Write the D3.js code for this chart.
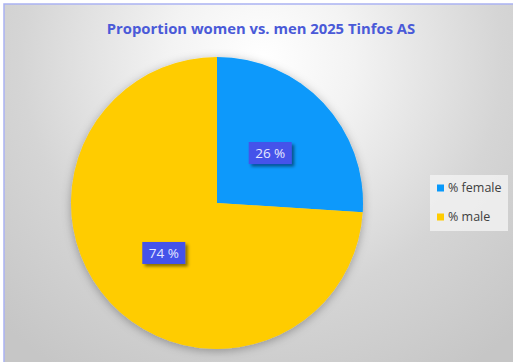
<!DOCTYPE html>
<html><head><meta charset="utf-8">
<script src="https://cdn.jsdelivr.net/npm/d3@7"></script>
<style>html,body{margin:0;padding:0;background:#fff;}svg{display:block;}</style>
</head><body>
<svg id="c" width="513" height="362"></svg>
<script>
const title = "Proportion women vs. men 2025 Tinfos AS";
const categories = ["% female", "% male"];
const values = [26, 74];
const colors = ["#0899fb", "#ffcc00"];

const svg = d3.select("#c");
const W = 513, H = 362;
const defs = svg.append("defs");
const rg = defs.append("radialGradient").attr("id","bg")
  .attr("gradientUnits","userSpaceOnUse").attr("cx",262).attr("cy",60).attr("r",370)
  .attr("fx",262).attr("fy",60);
rg.append("stop").attr("offset","0%").attr("stop-color","#ffffff");
rg.append("stop").attr("offset","25%").attr("stop-color","#f3f3f3");
rg.append("stop").attr("offset","65%").attr("stop-color","#d5d5d5");
rg.append("stop").attr("offset","100%").attr("stop-color","#c6c6c6");

const sh = defs.append("filter").attr("id","pieShadow").attr("x","-20%").attr("y","-20%").attr("width","140%").attr("height","140%");
sh.append("feDropShadow").attr("dx",0).attr("dy",2).attr("stdDeviation",5).attr("flood-color","#000").attr("flood-opacity",0.3);
const ls = defs.append("filter").attr("id","lblShadow").attr("x","-30%").attr("y","-30%").attr("width","170%").attr("height","170%");
ls.append("feDropShadow").attr("dx",2.5).attr("dy",2.5).attr("stdDeviation",1.5).attr("flood-color","#000").attr("flood-opacity",0.45);

svg.append("rect").attr("x",0).attr("y",0).attr("width",W).attr("height",H).attr("fill","#fff");
svg.append("rect").attr("x",4).attr("y",4).attr("width",W+10).attr("height",H+10)
  .attr("fill","url(#bg)").attr("stroke","#aab2f2").attr("stroke-width",1.5);

svg.append("text").attr("x",261).attr("y",34).attr("text-anchor","middle")
  .attr("font-family","'Open Sans', sans-serif").attr("font-weight",700).attr("font-size",14.8)
  .attr("fill","#4a5ad8").text(title);

const cx = 217, cy = 203, R = 146;
const pie = d3.pie().sort(null).value(d => d)(values);
const arc = d3.arc().innerRadius(0).outerRadius(R);
const g = svg.append("g").attr("transform",`translate(${cx},${cy})`);
g.append("g").attr("filter","url(#pieShadow)").selectAll("path").data(pie).join("path")
  .attr("d",arc).attr("fill",(d,i)=>colors[i]);

const lg = g.selectAll("g.lbl").data(pie).join("g").attr("class","lbl")
  .attr("transform",d=>`translate(${arc.centroid(d)})`);
lg.append("rect").attr("x",-21.5).attr("y",-11).attr("width",43).attr("height",22)
  .attr("fill","#4452ea").attr("filter","url(#lblShadow)");
lg.append("text").attr("text-anchor","middle").attr("dy","0.36em")
  .attr("font-family","'Open Sans', sans-serif").attr("font-size",13.5)
  .attr("fill","#e6e8ff").text(d=>d.data+" %");

// legend
const leg = svg.append("g");
leg.append("rect").attr("x",430).attr("y",175).attr("width",78).attr("height",56)
  .attr("fill","#f1f1f1").attr("opacity",0.85);
const items = leg.selectAll("g.it").data(categories).join("g").attr("class","it")
  .attr("transform",(d,i)=>`translate(437,${188 + i*29})`);
items.append("rect").attr("x",0).attr("y",-3.5).attr("width",7).attr("height",7).attr("fill",(d,i)=>colors[i]);
items.append("text").attr("x",11).attr("dy","0.35em")
  .attr("font-family","'Open Sans', sans-serif").attr("font-size",12.5).attr("fill","#404040").text(d=>d);
</script>
</body></html>
